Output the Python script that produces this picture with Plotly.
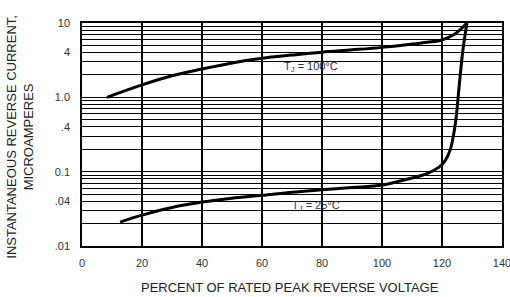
import math
import plotly.graph_objects as go

# Data
x_100 = [8.3, 20, 30, 40, 50, 60, 70, 80, 90, 100, 110, 115, 120, 124, 126, 128.3]
y_100 = [1.0, 1.47, 1.95, 2.4, 2.9, 3.35, 3.7, 4.05, 4.35, 4.7, 5.2, 5.5, 5.9, 7.0, 8.1, 10.0]

x_25 = [12.7, 20, 30, 40, 50, 60, 70, 80, 90, 100, 106, 110, 115, 119, 121, 122.7, 124.3, 126, 127, 128.3]
y_25 = [0.021, 0.026, 0.033, 0.039, 0.044, 0.048, 0.053, 0.057, 0.061, 0.066, 0.075, 0.082,
        0.094, 0.115, 0.14, 0.195, 0.4, 1.85, 4.4, 10.0]

x_ticks = [0, 20, 40, 60, 80, 100, 120, 140]
y_gridvals = [d * m for d in (0.01, 0.1, 1.0) for m in range(1, 10)] + [10.0]
y_labels = {0.01: ".01", 0.04: ".04", 0.1: "0.1", 0.4: ".4", 1.0: "1.0", 4.0: "4", 10.0: "10"}
y_ticktext = [y_labels.get(round(v, 4), "") for v in y_gridvals]

FONT = "Liberation Sans, Arial, sans-serif"

fig = go.Figure()
fig.add_trace(go.Scatter(x=x_100, y=y_100, mode="lines", line=dict(color="black", width=3, shape="spline"),
                         showlegend=False, hoverinfo="skip"))
fig.add_trace(go.Scatter(x=x_25, y=y_25, mode="lines", line=dict(color="black", width=3, shape="spline"),
                         showlegend=False, hoverinfo="skip"))

fig.update_layout(
    width=510, height=297,
    margin=dict(l=82, r=8, t=23, b=51, autoexpand=False),
    paper_bgcolor="white", plot_bgcolor="white",
    font=dict(family=FONT, color="#222", size=11),
    xaxis=dict(range=[0, 140], tickvals=x_ticks, showgrid=True, gridcolor="black", gridwidth=1.5,
               showline=True, linecolor="black", linewidth=1.5, mirror=True, zeroline=False,
               ticks="", ticklabelstandoff=6, ticklabeloverflow="allow",
               tickfont=dict(size=11, color="#333")),
    yaxis=dict(type="log", range=[-2, 1], tickvals=y_gridvals, ticktext=y_ticktext,
               showgrid=True, gridcolor="black", gridwidth=1,
               showline=True, linecolor="black", linewidth=1.5, mirror=True, zeroline=False,
               ticks="", ticklabelstandoff=8, ticklabeloverflow="allow",
               tickfont=dict(size=11, color="#333")),
    annotations=[
        dict(text="<b>TYPICAL REVERSE CHARACTERISTICS</b>", xref="paper", yref="paper",
             x=0.96, y=1.085, xanchor="right", yanchor="bottom", showarrow=False,
             font=dict(size=13, color="black")),
        dict(text="INSTANTANEOUS REVERSE CURRENT,<br>MICROAMPERES", xref="paper", yref="paper",
             x=(20 - 82) / 420, y=0.49, xanchor="center", yanchor="middle", textangle=-90,
             showarrow=False, font=dict(size=13, color="#222")),
        dict(text="PERCENT OF RATED PEAK REVERSE VOLTAGE", xref="paper", yref="paper",
             x=0.495, y=(246 - 287) / 223, xanchor="center", yanchor="middle",
             showarrow=False, font=dict(size=13, color="#222")),
        dict(text="T<sub>J</sub> = 100°C", x=76.3, y=math.log10(2.56), xref="x", yref="y",
             showarrow=False, font=dict(size=11, color="#333")),
        dict(text="T<sub>J</sub> = 25°C", x=78, y=math.log10(0.034), xref="x", yref="y",
             showarrow=False, font=dict(size=11, color="#333")),
    ],
)

fig.write_html("out.html", config={"displayModeBar": False},
               post_script="document.body.style.margin='0';document.body.style.overflow='hidden';")
